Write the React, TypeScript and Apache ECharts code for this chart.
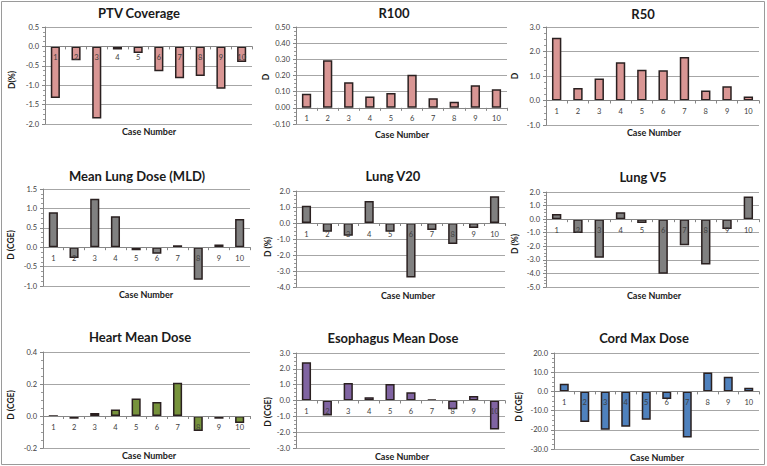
import React, { useEffect, useRef } from "react";
import * as echarts from "echarts";

const cases = ["1", "2", "3", "4", "5", "6", "7", "8", "9", "10"];
const ptvCoverage = [-1.33, -0.36, -1.86, -0.08, -0.17, -0.64, -0.82, -0.76, -1.09, -0.4];
const r100 = [0.087, 0.295, 0.159, 0.07, 0.091, 0.204, 0.06, 0.037, 0.14, 0.115];
const r50 = [2.56, 0.51, 0.9, 1.56, 1.26, 1.23, 1.78, 0.41, 0.58, 0.16];
const meanLungDose = [0.9, -0.28, 1.25, 0.8, -0.08, -0.17, 0.05, -0.84, 0.07, 0.73];
const lungV20 = [1.08, -0.54, -0.79, 1.38, -0.54, -3.4, -0.44, -1.31, -0.31, 1.67];
const lungV5 = [0.37, -1.02, -2.85, 0.51, -0.29, -4.02, -1.93, -3.34, -0.73, 1.66];
const heartMeanDose = [0, -0.017, 0.019, 0.04, 0.11, 0.088, 0.208, -0.094, -0.017, -0.044];
const esophagusMeanDose = [2.42, -0.94, 1.1, 0.21, 1.04, 0.52, 0.06, -0.56, 0.29, -1.83];
const cordMaxDose = [3.97, -15.9, -20.0, -18.4, -14.8, -4.0, -24.0, 9.8, 7.6, 1.9];

const titles = [
  "PTV Coverage", "R100", "R50",
  "Mean Lung Dose (MLD)", "Lung V20", "Lung V5",
  "Heart Mean Dose", "Esophagus Mean Dose", "Cord Max Dose",
];
const yNames = ["D(%)", "D", "D", "D (CGE)", "D (%)", "D (%)", "D (CGE)", "D (CGE)", "D (CGE)"];
const xName = "Case Number";
const seriesData = [ptvCoverage, r100, r50, meanLungDose, lungV20, lungV5, heartMeanDose, esophagusMeanDose, cordMaxDose];
const yMin = [-2, -0.1, -1, -1, -4, -5, -0.2, -3, -30];
const yMax = [0.5, 0.5, 3, 1.5, 2, 2, 0.4, 3, 20];
const yInterval = [0.5, 0.1, 1, 0.5, 1, 1, 0.2, 1, 10];
const yDecimals = [1, 2, 1, 1, 1, 1, 1, 1, 1];

// layout (pixels)
const grids = [
  { left: 45, top: 27, width: 207, height: 97 },
  { left: 296, top: 27, width: 211, height: 97 },
  { left: 546, top: 27, width: 213, height: 98 },
  { left: 43, top: 189, width: 207, height: 97 },
  { left: 296, top: 191, width: 209, height: 96 },
  { left: 546, top: 192, width: 213, height: 95 },
  { left: 43, top: 352, width: 207, height: 96 },
  { left: 296, top: 353, width: 209, height: 95 },
  { left: 554, top: 353, width: 205, height: 96 },
];
const titlePos = [
  [139, 13], [394, 13], [643, 14],
  [137, 176], [393, 176], [643, 177],
  [140, 337], [393, 338], [644, 338],
];
const xNamePos = [
  [149, 131], [402, 134], [654, 132],
  [146, 294], [408, 295], [654, 295],
  [149, 455], [402, 456], [657, 457],
];
const yNamePos = [
  [12, 80], [266, 77], [515, 76],
  [11, 245], [268, 247], [515, 244],
  [11, 405], [268, 412], [519, 407],
];
const colors = [
  "#d99694", "#d99694", "#d99694",
  "#808080", "#808080", "#808080",
  "#77933c", "#8064a2", "#4f81bd",
];

const FONT = "Lato, 'Open Sans', sans-serif";

export default function App() {
  const ref = useRef<HTMLDivElement>(null);
  useEffect(() => {
    if (!ref.current) return;
    const chart = echarts.init(ref.current, undefined, { renderer: "svg" });
    const graphic: any[] = [
      {
        type: "rect",
        shape: { x: 1.5, y: 1.5, width: 763, height: 463 },
        style: { fill: "none", stroke: "#9a9a9a", lineWidth: 1 },
        silent: true,
      },
    ];
    titles.forEach((t, i) => {
      graphic.push({
        type: "text",
        x: titlePos[i][0],
        y: titlePos[i][1],
        style: {
          text: t,
          fill: "#1a1a1a",
          fontSize: 13,
          fontWeight: "bold",
          fontFamily: FONT,
          textAlign: "center",
          textVerticalAlign: "middle",
        },
      });
      graphic.push({
        type: "text",
        x: xNamePos[i][0],
        y: xNamePos[i][1],
        style: {
          text: xName,
          fill: "#1a1a1a",
          fontSize: 9,
          fontWeight: "bold",
          fontFamily: FONT,
          textAlign: "center",
          textVerticalAlign: "middle",
        },
      });
      graphic.push({
        type: "text",
        x: yNamePos[i][0],
        y: yNamePos[i][1],
        rotation: Math.PI / 2,
        style: {
          text: yNames[i],
          fill: "#1a1a1a",
          fontSize: 8.5,
          fontWeight: "bold",
          fontFamily: FONT,
          textAlign: "center",
          textVerticalAlign: "middle",
        },
      });
    });

    const option: any = {
      animation: false,
      backgroundColor: "#ffffff",
      grid: grids.map((g) => ({ ...g, containLabel: false, outerBoundsMode: "none" })),
      xAxis: grids.map((g, i) => ({
        type: "category",
        gridIndex: i,
        data: cases,
        z: 5,
        position: "bottom",
        // place the category axis where the value axis crosses zero
        offset: -(g.height * (0 - yMin[i])) / (yMax[i] - yMin[i]),
        axisLine: { show: true, onZero: false, lineStyle: { color: "#868686", width: 1 } },
        axisTick: { show: true, length: 3, lineStyle: { color: "#868686" } },
        axisLabel: { fontSize: 7.5, color: "#404040", margin: 7, fontFamily: FONT },
        splitLine: { show: false },
      })),
      yAxis: grids.map((_, i) => ({
        type: "value",
        gridIndex: i,
        min: yMin[i],
        max: yMax[i],
        interval: yInterval[i],
        axisLine: { show: true, lineStyle: { color: "#868686", width: 1 } },
        axisTick: { show: true, length: 3, lineStyle: { color: "#868686" } },
        minorTick: { show: true, splitNumber: 4, length: 2, lineStyle: { color: "#9a9a9a" } },
        axisLabel: {
          fontSize: 7.5,
          color: "#404040",
          margin: 6,
          fontFamily: FONT,
          formatter: (v: number) => v.toFixed(yDecimals[i]),
        },
        splitLine: { show: true, lineStyle: { color: "#a6a6a6", width: 1 } },
      })),
      series: seriesData.map((d, i) => ({
        type: "bar",
        xAxisIndex: i,
        yAxisIndex: i,
        data: d,
        barWidth: "44%",
        itemStyle: { color: colors[i], borderColor: "#2a2020", borderWidth: 1.5 },
      })),
      graphic,
    };
    chart.setOption(option);
    return () => chart.dispose();
  }, []);
  return (
    <div
      ref={ref}
      style={{ position: "fixed", left: 0, top: 0, width: 767, height: 466, background: "#fff" }}
    />
  );
}
